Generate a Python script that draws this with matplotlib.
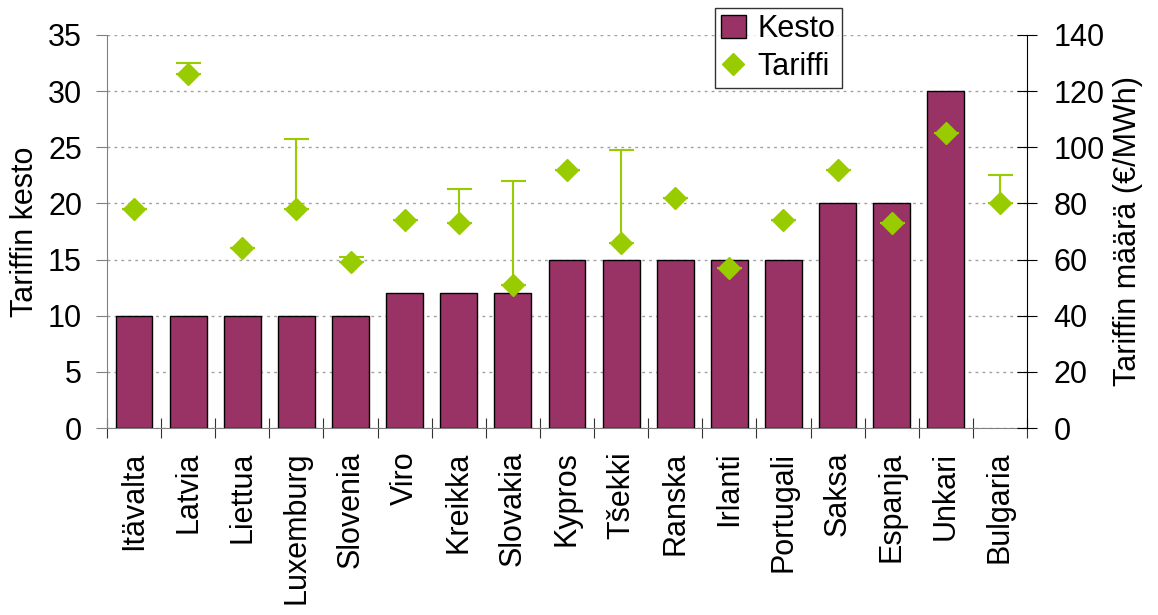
import matplotlib
matplotlib.use("Agg")
import matplotlib.pyplot as plt
import numpy as np

plt.rcParams['font.family'] = ['Liberation Sans', 'DejaVu Sans']

countries = ["Itävalta", "Latvia", "Liettua", "Luxemburg", "Slovenia", "Viro",
             "Kreikka", "Slovakia", "Kypros", "Tšekki", "Ranska", "Irlanti",
             "Portugali", "Saksa", "Espanja", "Unkari", "Bulgaria"]
kesto = [10, 10, 10, 10, 10, 12, 12, 12, 15, 15, 15, 15, 15, 20, 20, 30, None]
tariffi = [78, 126, 64, 78, 59, 74, 73, 51, 92, 66, 82, 57, 74, 92, 73, 105, 80]
tariffi_max = [78, 130, 64, 103, 61, 74, 85, 88, 92, 99, 82, 57, 74, 92, 73, 105, 90]

bar_color = "#993366"
tar_color = "#99CC00"
FS = 22

fig = plt.figure(figsize=(11.58, 6.15), dpi=100)
ax = fig.add_axes([107/1158, 1-428/615, (1027-107)/1158, (428-35)/615])
ax2 = ax.twinx()

x = np.arange(len(countries))
bx = [i for i, v in zip(x, kesto) if v is not None]
bv = [v for v in kesto if v is not None]
ax.bar(bx, bv, width=0.68, color=bar_color, edgecolor="black", linewidth=1.0, zorder=3, label="Kesto")

ax.set_xlim(-0.5, len(countries) - 0.5)
ax.set_ylim(0, 35)
ax.set_yticks(np.arange(0, 36, 5))
ax.yaxis.grid(True, linestyle=(0, (2, 3)), color="#a0a0a0", linewidth=1.0)
ax.set_axisbelow(True)

ax.set_xticks(np.arange(-0.5, len(countries), 1.0))
ax.set_xticklabels([])
ax.set_xticks(x, minor=True)
ax.set_xticklabels(countries, minor=True, rotation=90, va="top", ha="center", fontsize=FS)
ax.tick_params(axis="x", which="major", direction="inout", length=14, color="#333333")
ax.tick_params(axis="x", which="minor", length=0, pad=17)
ax.tick_params(axis="y", direction="out", length=8, labelsize=FS, pad=10, color="#808080")

ax.spines["top"].set_visible(False)
ax2.spines["top"].set_visible(False)
ax.spines["left"].set_color("#808080")
ax.spines["bottom"].set_color("#808080")
ax2.spines["left"].set_visible(False)
ax2.spines["bottom"].set_visible(False)
ax.spines["right"].set_visible(False)
ax2.spines["right"].set_color("black")

tar = np.array(tariffi, dtype=float)
tmax = np.array(tariffi_max, dtype=float)
yerr = np.vstack([np.zeros_like(tar), tmax - tar])
ax2.errorbar(x, tar, yerr=yerr, fmt="none", ecolor=tar_color, elinewidth=1.5,
             capsize=9, capthick=1.5, zorder=4)
ax2.plot(x, tar, linestyle="none", marker="D", markersize=11.5, color=tar_color,
         markeredgecolor=tar_color, zorder=5, label="Tariffi")
ax2.set_ylim(0, 140)
ax2.set_yticks(np.arange(0, 141, 20))
ax2.tick_params(axis="y", direction="inout", length=14, labelsize=FS, pad=12)

ax.set_ylabel("Tariffin kesto", fontsize=FS, labelpad=6)
ax2.set_ylabel("Tariffin määrä (€/MWh)", fontsize=FS, labelpad=6)

h1, l1 = ax.get_legend_handles_labels()
h2, l2 = ax2.get_legend_handles_labels()
leg = fig.legend(h1 + h2, l1 + l2, loc="upper left",
                 bbox_to_anchor=(715/1158, 1-8/615), fontsize=FS,
                 frameon=True, fancybox=False, edgecolor="black",
                 handlelength=0.8, handleheight=0.8, handletextpad=0.4, borderpad=0.2,
                 labelspacing=0.25, borderaxespad=0)
leg.get_frame().set_linewidth(1.0)

fig.savefig("out.png", dpi=100)
